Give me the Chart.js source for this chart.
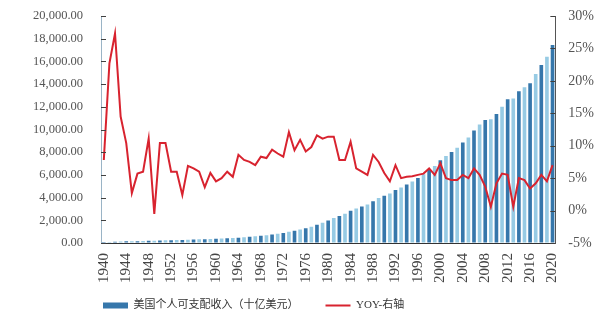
<!DOCTYPE html>
<html>
<head>
<meta charset="utf-8">
<script src="https://cdn.jsdelivr.net/npm/chart.js@4.4.1/dist/chart.umd.min.js"></script>
<style>
  html, body { margin: 0; padding: 0; background: #fff; }
  #wrap { width: 601px; height: 319px; }
</style>
</head>
<body>
<div id="wrap"><canvas id="incomeChart" width="601" height="319"></canvas></div>
<script>
// years 1940 - 2020
const years = [];
for (let y = 1940; y <= 2020; y++) years.push(String(y));

// US personal disposable income, billion USD (left axis)
const income = [
    80, 95, 120, 137, 151, 155, 165, 175, 194, 193,
    213, 235, 249, 264, 270, 288, 307, 325, 337, 356,
    372, 390, 414, 435, 473, 510, 548, 586, 635, 686,
    750, 816, 884, 990, 1082, 1200, 1309, 1437, 1604, 1783,
    1986, 2212, 2385, 2571, 2844, 3029, 3211, 3388, 3680, 3956,
    4174, 4362, 4667, 4900, 5155, 5428, 5727, 6048, 6441, 6795,
    7292, 7657, 8020, 8395, 8860, 9300, 9910, 10450, 10840, 10900,
    11360, 12000, 12660, 12740, 13380, 13720, 14070, 14890, 15680, 16400,
    17450
];

// YOY growth, % (right axis)
const yoy = [
    7.8, 22.7, 27.3, 14.5, 10.4, 2.7, 5.7, 6.0, 11.1, -0.5,
    10.4, 10.4, 6.0, 6.0, 2.4, 6.9, 6.5, 6.0, 3.6, 5.8,
    4.5, 5.0, 6.0, 5.2, 8.6, 7.8, 7.5, 7.0, 8.3, 8.1,
    9.4, 8.8, 8.3, 12.1, 9.3, 10.9, 9.1, 9.8, 11.6, 11.1,
    11.4, 11.4, 7.8, 7.8, 10.6, 6.5, 6.0, 5.5, 8.6, 7.5,
    5.8, 4.5, 7.0, 5.0, 5.2, 5.3, 5.5, 5.7, 6.5, 5.5,
    7.3, 5.0, 4.7, 4.7, 5.5, 5.0, 6.5, 5.5, 3.7, 0.6,
    4.2, 5.7, 5.5, 0.6, 5.0, 4.7, 3.4, 4.2, 5.5, 4.5,
    7.0
];

const barLabel = '美国个人可支配收入（十亿美元）';
const lineLabel = 'YOY-右轴';

const serif = "'Liberation Serif', 'Times New Roman', serif";
const legendFont = "'Liberation Serif', 'Noto Sans CJK SC', serif";

// small tick marks drawn inside the plot on both value axes
const innerTicks = {
    id: 'innerTicks',
    afterDraw(chart) {
        const c = chart.ctx;
        const area = chart.chartArea;
        c.save();
        c.lineWidth = 1;
        c.strokeStyle = '#404040';
        chart.scales.y.ticks.forEach(t => {
            const py = Math.round(chart.scales.y.getPixelForValue(t.value)) + 0.5;
            c.beginPath();
            c.moveTo(area.left, py);
            c.lineTo(area.left + 5, py);
            c.stroke();
        });
        chart.scales.y2.ticks.forEach(t => {
            const py = Math.round(chart.scales.y2.getPixelForValue(t.value)) + 0.5;
            c.beginPath();
            c.moveTo(area.right - 5, py);
            c.lineTo(area.right, py);
            c.stroke();
        });
        c.restore();
    }
};

// legend row sits just under the year labels, starting near the plot's left edge
const placeLegend = {
    id: 'placeLegend',
    afterLayout(chart) {
        const lg = chart.legend;
        lg.left = chart.chartArea.left - 25;
        lg.top = chart.chartArea.bottom + 30;
        lg.bottom = chart.height;
    }
};

const ctx = document.getElementById('incomeChart').getContext('2d');

new Chart(ctx, {
    type: 'bar',
    data: {
        labels: years,
        datasets: [
            {
                type: 'bar',
                label: barLabel,
                data: income,
                yAxisID: 'y',
                backgroundColor: income.map((v, i) => i % 2 === 0 ? '#3677ab' : '#97cbe4'),
                borderWidth: 0,
                categoryPercentage: 0.65,
                barPercentage: 1,
                pointStyle: 'rect',
                order: 1
            },
            {
                type: 'line',
                label: lineLabel,
                data: yoy,
                yAxisID: 'y2',
                borderColor: '#d8232f',
                backgroundColor: '#d8232f',
                borderWidth: 2,
                pointRadius: 0,
                tension: 0,
                pointStyle: 'line',
                order: 0
            }
        ]
    },
    options: {
        responsive: false,
        animation: false,
        layout: { padding: { left: 33, right: 7, top: 16, bottom: 0 } },
        plugins: {
            tooltip: { enabled: false },
            legend: {
                position: 'bottom',
                align: 'start',
                fullSize: false,
                maxHeight: 34,
                labels: {
                    usePointStyle: true,
                    pointStyleWidth: 25,
                    boxHeight: 6,
                    padding: 27,
                    color: '#333',
                    font: { family: legendFont, size: 11 },
                    sort: (a, b) => a.datasetIndex - b.datasetIndex
                }
            }
        },
        scales: {
            x: {
                grid: { display: false },
                border: { color: '#333' },
                ticks: {
                    autoSkip: false,
                    minRotation: 90,
                    maxRotation: 90,
                    padding: 2,
                    color: '#444',
                    font: { family: serif, size: 15 },
                    callback: function (val, idx) {
                        return idx % 4 === 0 ? years[idx] : '';
                    }
                }
            },
            y: {
                position: 'left',
                min: 0,
                max: 20000,
                grid: { drawOnChartArea: false, color: 'rgba(0,0,0,0)', tickLength: 18 },
                border: { color: '#9ab4c6' },
                ticks: {
                    stepSize: 2000,
                    padding: 0,
                    color: '#555',
                    font: { family: serif, size: 12.5 },
                    callback: v => v.toLocaleString('en-US', { minimumFractionDigits: 2, maximumFractionDigits: 2 })
                }
            },
            y2: {
                position: 'right',
                min: -5,
                max: 30,
                grid: { drawOnChartArea: false, color: 'rgba(0,0,0,0)', tickLength: 13 },
                border: { color: '#555' },
                ticks: {
                    stepSize: 5,
                    padding: 0,
                    color: '#555',
                    font: { family: serif, size: 14 },
                    callback: v => v + '%'
                }
            }
        }
    },
    plugins: [innerTicks, placeLegend]
});
</script>
</body>
</html>
